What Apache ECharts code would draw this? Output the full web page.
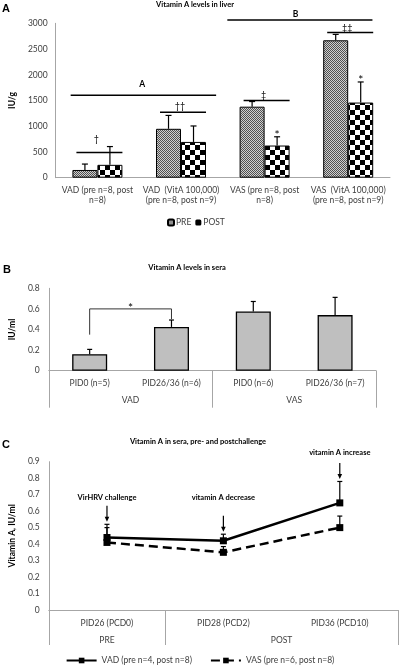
<!DOCTYPE html>
<html><head><meta charset="utf-8">
<script src="https://cdn.jsdelivr.net/npm/echarts@6/dist/echarts.min.js"></script>
<style>html,body{margin:0;padding:0;background:#fff}#c{width:400px;height:666px}</style>
</head><body><div id="c"></div>
<script>
// ---------- Panel A data: Vitamin A levels in liver ----------
var liverCategories = ['VAD (pre n=8, post\nn=8)', 'VAD  (VitA 100,000)\n(pre n=8, post n=9)', 'VAS (pre n=8, post\nn=8)', 'VAS  (VitA 100,000)\n(pre n=8, post n=9)'];
var liverPre = [150, 950, 1380, 2670];
var liverPreSD = [115, 260, 100, 115];
var liverPost = [250, 695, 625, 1460];
var liverPostSD = [355, 310, 170, 400];
var liverTicks = [0, 500, 1000, 1500, 2000, 2500, 3000];
var liverPairMarks = ['\u2020', '\u2020\u2020', '\u2021', '\u2021\u2021'];
var liverPairLevels = [490, 1270, 1500, 2820];
var liverPairMarkLevels = [743, 1388, 1599, 2914];
var liverGroupMarks = ['A', 'B'];
var liverGroupFrom = [-0.32, 1.554];
var liverGroupTo = [1.42, 3.29];
var liverGroupLevels = [1600, 3066];
var liverGroupMarkLevels = [1812, 3180];
var liverGroupMarkAt = [0.535, 2.37];
var liverPostStarCats = [2, 3];

// ---------- Panel B data: Vitamin A levels in sera ----------
var seraCategories = ['PID0 (n=5)', 'PID26/36 (n=6)', 'PID0 (n=6)', 'PID26/36 (n=7)'];
var seraGroups = ['VAD', 'VAS'];
var seraValues = [0.16, 0.425, 0.575, 0.54];
var seraSD = [0.047, 0.067, 0.097, 0.172];
var seraTicks = [0, 0.2, 0.4, 0.6, 0.8];
var seraBracketCats = [0, 1];
var seraBracketLevel = 0.6;
var seraBracketFeet = [0.35, 0.5];

// ---------- Panel C data: pre- and postchallenge ----------
var chalCategories = ['PID26 (PCD0)', 'PID28 (PCD2)', 'PID36 (PCD10)'];
var chalGroups = ['PRE', 'POST'];
var chalGroupBounds = [0, 1, 3];
var chalGroupCenters = [0.5, 2];
var vadName = 'VAD (pre n=4, post n=8)';
var vasName = 'VAS (pre n=6, post n=8)';
var vadValues = [0.44, 0.42, 0.65];
var vadSD = [0.08, 0.04, 0.13];
var vasValues = [0.41, 0.35, 0.50];
var vasSD = [0.09, 0.035, 0.07];
var chalTicks = [0, 0.1, 0.2, 0.3, 0.4, 0.5, 0.6, 0.7, 0.8, 0.9];
var chalNotes = ['VirHRV challenge', 'vitamin A decrease', 'vitamin A increase'];
var chalNoteLevels = [0.685, 0.685, 0.955];

// ---------- styles ----------
var FONT = 'Lato, "Noto Sans", sans-serif';
var AXIS_GRAY = '#a6a6a6';
var TXT = '#404040';

function pattern(size, draw) {
  var cv = document.createElement('canvas');
  cv.width = size; cv.height = size;
  var ctx = cv.getContext('2d');
  draw(ctx, size);
  return { image: cv, repeat: 'repeat' };
}
var prePattern = pattern(2, function (ctx) {
  ctx.fillStyle = '#cfcfcf'; ctx.fillRect(0, 0, 2, 2);
  ctx.fillStyle = '#505050'; ctx.fillRect(0, 0, 1, 1); ctx.fillRect(1, 1, 1, 1);
});
var postPattern = pattern(10, function (ctx) {
  ctx.fillStyle = '#fff'; ctx.fillRect(0, 0, 10, 10);
  ctx.fillStyle = '#000'; ctx.fillRect(0, 0, 5, 5); ctx.fillRect(5, 5, 5, 5);
});

var BAR_A = 25;
function plain(v) { return String(Math.round(v * 1000) / 1000); }

function errorBars(offsetPx, capHalf, lw) {
  return function (params, api) {
    var i = api.value(0), v = api.value(1), sd = api.value(2);
    var p0 = api.coord([i, v]);
    var p1 = api.coord([i, v + sd]);
    var x = p0[0] + offsetPx;
    var st = { stroke: '#000', lineWidth: lw };
    return { type: 'group', children: [
      { type: 'line', shape: { x1: x, y1: p0[1], x2: x, y2: p1[1] }, style: st },
      { type: 'line', shape: { x1: x - capHalf, y1: p1[1], x2: x + capHalf, y2: p1[1] }, style: st }
    ]};
  };
}
function txt(x, y, s, font, fill) {
  return { type: 'text', x: x, y: y, style: { text: s, font: font, fill: fill || '#000', align: 'center', verticalAlign: 'middle' } };
}

var chart = echarts.init(document.getElementById('c'), null, { renderer: 'canvas' });

var option = {
  animation: false,
  backgroundColor: '#fff',
  textStyle: { fontFamily: FONT },
  grid: [
    { left: 42, top: 23.3, width: 348, height: 154.4 },
    { left: 36, top: 288.3, width: 340, height: 82.4 },
    { left: 36, top: 461.7, width: 362, height: 148.3 }
  ],
  graphic: [
    txt(6, 9, 'A', 'bold 11px "Liberation Sans", Arial, sans-serif'),
    txt(195, 5, 'Vitamin A levels in liver', 'bold 7.5px ' + FONT),
    txt(7, 270, 'B', 'bold 11px "Liberation Sans", Arial, sans-serif'),
    txt(187, 268, 'Vitamin A levels in sera', 'bold 7.5px ' + FONT),
    txt(6, 445, 'C', 'bold 11px "Liberation Sans", Arial, sans-serif'),
    txt(198, 442, 'Vitamin A in sera, pre- and postchallenge', 'bold 7.5px ' + FONT)
  ],
  legend: [
    {
      left: 167, top: 218, padding: 0, itemWidth: 6, itemHeight: 6, itemGap: 4,
      textStyle: { fontSize: 8.5, color: TXT, fontFamily: FONT, padding: [0, 0, 0, -3] },
      data: [{ name: 'PRE' }, { name: 'POST', itemStyle: { color: '#000', borderWidth: 0 } }]
    },
    {
      left: 'center', top: 656, padding: 0, itemWidth: 30, itemHeight: 7, itemGap: 18,
      textStyle: { fontSize: 8.5, color: TXT, fontFamily: FONT },
      data: [vadName, vasName]
    }
  ],
  xAxis: [
    { gridIndex: 0, type: 'category', position: 'bottom', data: liverCategories,
      axisLine: { lineStyle: { color: AXIS_GRAY, width: 1 } }, axisTick: { show: false },
      axisLabel: { color: TXT, fontSize: 8.5, margin: 7, lineHeight: 10.5, interval: 0, fontFamily: FONT } },
    { gridIndex: 1, type: 'category', position: 'bottom', data: seraCategories,
      axisLine: { lineStyle: { color: AXIS_GRAY, width: 1 } }, axisTick: { show: false },
      axisLabel: { color: TXT, fontSize: 8.5, margin: 8, interval: 0, fontFamily: FONT } },
    { gridIndex: 1, type: 'category', position: 'bottom', offset: 0, data: seraGroups,
      axisLine: { show: false },
      axisTick: { show: true, length: 37, lineStyle: { color: AXIS_GRAY } },
      axisLabel: { color: TXT, fontSize: 8.5, margin: 25, fontFamily: FONT } },
    { gridIndex: 2, type: 'category', position: 'bottom', data: chalCategories,
      axisLine: { lineStyle: { color: AXIS_GRAY, width: 1 } }, axisTick: { show: false },
      axisLabel: { color: TXT, fontSize: 8.5, margin: 9, interval: 0, fontFamily: FONT } },
    { gridIndex: 2, type: 'value', position: 'bottom', offset: 0, min: chalGroupBounds[0], max: chalGroupBounds[chalGroupBounds.length - 1],
      axisLine: { show: false }, splitLine: { show: false },
      axisTick: { show: true, length: 35, customValues: chalGroupBounds, lineStyle: { color: AXIS_GRAY } },
      axisLabel: { color: TXT, fontSize: 8.5, margin: 26, customValues: chalGroupCenters, fontFamily: FONT,
        formatter: function (v) { return v < chalGroupBounds[1] ? chalGroups[0] : chalGroups[1]; } } }
  ],
  yAxis: [
    { gridIndex: 0, type: 'value', min: liverTicks[0], max: liverTicks[liverTicks.length - 1], interval: liverTicks[1] - liverTicks[0],
      name: 'IU/g', nameLocation: 'middle', nameGap: 32, nameRotate: 90,
      nameTextStyle: { fontWeight: 'bold', fontSize: 8.5, color: '#000', fontFamily: FONT },
      axisLine: { show: true, lineStyle: { color: AXIS_GRAY } }, axisTick: { show: false }, splitLine: { show: false },
      axisLabel: { color: TXT, fontSize: 8.5, margin: 8, fontFamily: FONT, formatter: plain } },
    { gridIndex: 1, type: 'value', min: seraTicks[0], max: seraTicks[seraTicks.length - 1], interval: seraTicks[1] - seraTicks[0],
      name: 'IU/ml', nameLocation: 'middle', nameGap: 26, nameRotate: 90,
      nameTextStyle: { fontWeight: 'bold', fontSize: 8.5, color: '#000', fontFamily: FONT },
      axisLine: { show: true, lineStyle: { color: AXIS_GRAY } }, axisTick: { show: false }, splitLine: { show: false },
      axisLabel: { color: TXT, fontSize: 8.5, margin: 9, fontFamily: FONT, formatter: plain } },
    { gridIndex: 2, type: 'value', min: chalTicks[0], max: chalTicks[chalTicks.length - 1], interval: 0.1,
      name: 'Vitamin A, IU/ml', nameLocation: 'middle', nameGap: 26, nameRotate: 90,
      nameTextStyle: { fontWeight: 'bold', fontSize: 8.5, color: '#000', fontFamily: FONT },
      axisLine: { show: true, lineStyle: { color: AXIS_GRAY } }, axisTick: { show: false }, splitLine: { show: false },
      axisLabel: { color: TXT, fontSize: 8.5, margin: 9, fontFamily: FONT, formatter: plain } }
  ],
  series: [
    { name: 'PRE', type: 'bar', xAxisIndex: 0, yAxisIndex: 0, data: liverPre, barWidth: BAR_A, barGap: '0%',
      itemStyle: { color: prePattern, borderColor: '#000', borderWidth: 1 }, silent: true },
    { name: 'POST', type: 'bar', xAxisIndex: 0, yAxisIndex: 0, data: liverPost, barWidth: BAR_A, barGap: '0%',
      itemStyle: { color: postPattern, borderColor: '#000', borderWidth: 1 }, silent: true },
    { type: 'custom', xAxisIndex: 0, yAxisIndex: 0, silent: true, z: 5,
      data: liverPre.map(function (v, i) { return [i, v, liverPreSD[i]]; }),
      renderItem: errorBars(-BAR_A / 2, 3, 1.2) },
    { type: 'custom', xAxisIndex: 0, yAxisIndex: 0, silent: true, z: 5,
      data: liverPost.map(function (v, i) { return [i, v, liverPostSD[i]]; }),
      renderItem: errorBars(BAR_A / 2, 3, 1.2) },
    { type: 'custom', xAxisIndex: 0, yAxisIndex: 0, silent: true, z: 6,
      data: [[0, 0]],
      renderItem: function (params, api) {
        var band = api.size([1, 0])[0];
        var x0 = api.coord([0, 0])[0];
        var kids = [];
        var st = { stroke: '#000', lineWidth: 1.5 };
        liverPairLevels.forEach(function (lv, i) {
          var cx = api.coord([i, 0])[0];
          var y = api.coord([i, lv])[1];
          kids.push({ type: 'line', shape: { x1: cx - 21, y1: y, x2: cx + 25, y2: y }, style: st });
          kids.push(txt(cx - 1, api.coord([i, liverPairMarkLevels[i]])[1], liverPairMarks[i], '9px ' + FONT));
        });
        liverGroupLevels.forEach(function (lv, i) {
          var y = api.coord([0, lv])[1];
          kids.push({ type: 'line', shape: { x1: x0 + liverGroupFrom[i] * band, y1: y, x2: x0 + liverGroupTo[i] * band, y2: y }, style: st });
          kids.push(txt(x0 + liverGroupMarkAt[i] * band, api.coord([0, liverGroupMarkLevels[i]])[1], liverGroupMarks[i], 'bold 8.5px ' + FONT));
        });
        liverPostStarCats.forEach(function (c) {
          var p = api.coord([c, liverPost[c] + liverPostSD[c]]);
          kids.push(txt(p[0] + BAR_A / 2, p[1] - 2, '*', '12px ' + FONT));
        });
        return { type: 'group', children: kids };
      } },
    { name: 'sera', type: 'bar', xAxisIndex: 1, yAxisIndex: 1, data: seraValues, barWidth: 35,
      itemStyle: { color: '#bfbfbf', borderColor: '#000', borderWidth: 1.3 }, silent: true },
    { type: 'custom', xAxisIndex: 1, yAxisIndex: 1, silent: true, z: 5,
      data: seraValues.map(function (v, i) { return [i, v, seraSD[i]]; }),
      renderItem: errorBars(0, 2.5, 1.2) },
    { type: 'custom', xAxisIndex: 1, yAxisIndex: 1, silent: true, z: 6,
      data: [[0, 0]],
      renderItem: function (params, api) {
        var a = api.coord([seraBracketCats[0], seraBracketFeet[0]]);
        var b = api.coord([seraBracketCats[1], seraBracketFeet[1]]);
        var y = api.coord([0, seraBracketLevel])[1];
        return { type: 'group', children: [
          { type: 'polyline', shape: { points: [[a[0], a[1]], [a[0], y], [b[0], y], [b[0], b[1]]] }, style: { stroke: '#333', lineWidth: 1, fill: null } },
          txt((a[0] + b[0]) / 2, y - 1, '*', '12px ' + FONT)
        ]};
      } },
    { name: vadName, type: 'line', xAxisIndex: 3, yAxisIndex: 2, data: vadValues, z: 4,
      symbol: 'rect', symbolSize: 7, itemStyle: { color: '#000' },
      lineStyle: { color: '#000', width: 2.5, type: 'solid' }, silent: true },
    { name: vasName, type: 'line', xAxisIndex: 3, yAxisIndex: 2, data: vasValues, z: 4,
      symbol: 'rect', symbolSize: 7, itemStyle: { color: '#000' },
      lineStyle: { color: '#000', width: 2.5, type: [9, 5] }, silent: true },
    { type: 'custom', xAxisIndex: 3, yAxisIndex: 2, silent: true, z: 3,
      data: vadValues.map(function (v, i) { return [i, v, vadSD[i]]; }),
      renderItem: errorBars(0, 2.5, 1.2) },
    { type: 'custom', xAxisIndex: 3, yAxisIndex: 2, silent: true, z: 3,
      data: vasValues.map(function (v, i) { return [i, v, vasSD[i]]; }),
      renderItem: errorBars(0, 2.5, 1.2) },
    { type: 'custom', xAxisIndex: 3, yAxisIndex: 2, silent: true, z: 6,
      data: chalNotes.map(function (t, i) { return [i, chalNoteLevels[i]]; }),
      renderItem: function (params, api) {
        var i = api.value(0);
        var top = Math.max(vadValues[i] + vadSD[i], vasValues[i] + vasSD[i]);
        var p = api.coord([i, top]);
        var x = p[0], tip = p[1] - 2.5, tail = tip - 16;
        var ty = api.coord([i, chalNoteLevels[i]])[1];
        return { type: 'group', children: [
          { type: 'line', shape: { x1: x, y1: tail, x2: x, y2: tip - 4 }, style: { stroke: '#000', lineWidth: 1.2 } },
          { type: 'polygon', shape: { points: [[x - 2.3, tip - 5], [x + 2.3, tip - 5], [x, tip]] }, style: { fill: '#000' } },
          txt(x, ty, chalNotes[i], 'bold 7.5px ' + FONT)
        ]};
      } }
  ]
};
chart.setOption(option);
</script>
</body></html>
